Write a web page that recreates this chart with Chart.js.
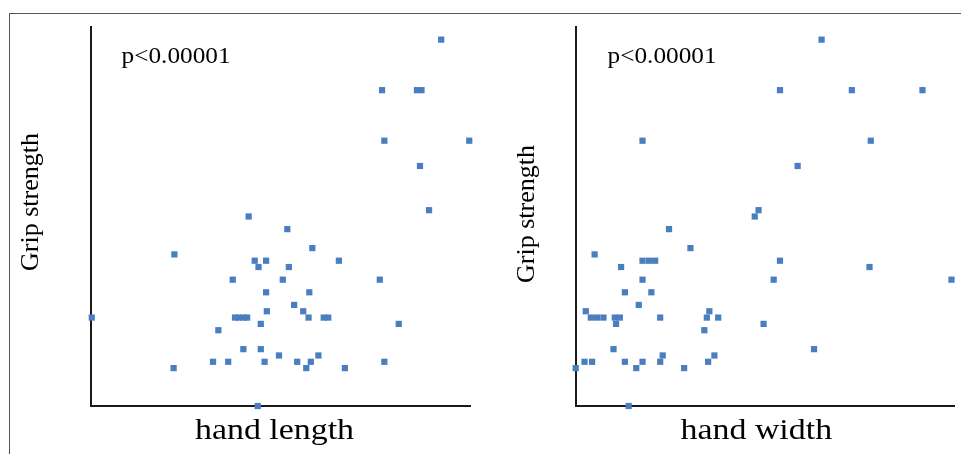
<!DOCTYPE html>
<html>
<head>
<meta charset="utf-8">
<script src="https://cdn.jsdelivr.net/npm/chart.js@4.4.1/dist/chart.umd.min.js"></script>
<style>
  html, body { margin: 0; padding: 0; background: #fff; }
  body { width: 961px; height: 454px; position: relative; overflow: hidden; }
  #frame { position: absolute; left: 9px; top: 13px; width: 960px; height: 450px;
           border-left: 1px solid #555; border-top: 1px solid #555; }
  canvas { position: absolute; top: 0; }
  #c1 { left: 0; }
  #c2 { left: 480px; }
</style>
</head>
<body>
<div id="frame"></div>
<canvas id="c1" width="480" height="454"></canvas>
<canvas id="c2" width="481" height="454"></canvas>
<script>
// ---- data ----
const lengthX = [20.62,19.84,20.30,20.36,19.87,20.99,20.34,20.46,18.08,18.59,17.10,18.92,18.16,18.31,18.21,18.61,19.27,17.87,18.53,19.81,18.31,18.88,18.68,18.80,18.32,16.01,17.90,17.95,18.01,18.06,18.87,19.07,19.13,18.24,20.06,17.68,18.01,18.24,18.48,19.00,17.61,17.81,18.29,18.72,18.90,19.87,17.09,18.84,19.35,18.20];
const lengthGrip = [73,65,65,65,57,57,53,46,45,43,39,40,38,38,37,37,38,35,35,35,33,33,31,30,30,29,29,29,29,29,29,29,29,28,28,27,24,24,23,23,22,22,22,22,22,22,21,21,21,15];

const widthX = [8.95,8.62,9.19,9.75,7.53,9.34,8.76,8.45,8.42,7.74,7.15,7.91,7.53,7.58,7.63,8.62,7.36,9.33,7.53,8.57,9.98,7.39,7.60,7.50,7.08,8.06,7.12,7.17,7.22,7.31,7.35,7.67,8.04,8.13,7.32,8.49,8.02,7.30,8.89,7.69,8.10,7.07,7.13,7.39,7.53,7.67,8.05,7.00,7.48,7.86,7.42];
const widthGrip = [73,65,65,65,57,57,53,46,45,43,39,40,38,38,38,38,37,37,35,35,35,33,33,31,30,30,29,29,29,29,29,29,29,29,28,28,27,24,24,23,23,22,22,22,22,22,22,21,21,21,15];

const xTitles = ["hand length", "hand width"];
const yTitle = "Grip strength";
const pLabel = "p<0.00001";

const gripRange = [15, 75];
const lengthRange = [16, 21];
const widthRange = [7, 10];

const BLUE = '#4a7ebf';
const AXIS = '#1a1a1a';
const FONT = '"Liberation Serif", "Times New Roman", serif';

function pts(xs, ys) { return xs.map((x, i) => ({ x: x, y: ys[i] })); }

function textPlugin(cfg) {
  return {
    id: 'texts',
    afterDraw(chart) {
      const ctx = chart.ctx;
      ctx.save();
      ctx.fillStyle = '#000';
      // p label
      ctx.font = '23px ' + FONT;
      ctx.textAlign = 'left';
      ctx.textBaseline = 'alphabetic';
      ctx.save();
      ctx.translate(cfg.pX, 62.5);
      ctx.scale(1.1, 1);
      ctx.fillText(pLabel, 0, 0);
      ctx.restore();
      // x title
      ctx.font = '30px ' + FONT;
      ctx.textAlign = 'center';
      ctx.save();
      ctx.translate(cfg.xtX, 439);
      ctx.scale(1.13, 1);
      ctx.fillText(cfg.xTitle, 0, 0);
      ctx.restore();
      // y title
      ctx.font = '26px ' + FONT;
      ctx.save();
      ctx.translate(cfg.ytX, cfg.ytY);
      ctx.rotate(-Math.PI / 2);
      ctx.fillText(yTitle, 0, 0);
      ctx.restore();
      ctx.restore();
    }
  };
}

function makeChart(id, data, xr, leftW, rightPad, tcfg) {
  return new Chart(document.getElementById(id), {
    type: 'scatter',
    data: {
      datasets: [{
        data: data,
        pointStyle: 'rect',
        pointRadius: 4.4,
        pointHoverRadius: 4.4,
        backgroundColor: BLUE,
        borderColor: BLUE,
        borderWidth: 0,
        clip: false
      }]
    },
    options: {
      responsive: false,
      animation: false,
      devicePixelRatio: 1,
      layout: { padding: { top: 27, right: rightPad, left: 0, bottom: 0 } },
      plugins: { legend: { display: false }, tooltip: { enabled: false } },
      events: [],
      scales: {
        x: {
          type: 'linear', min: xr[0], max: xr[1],
          grid: { display: false, drawTicks: false },
          ticks: { display: false },
          border: { display: true, color: AXIS, width: 2 },
          afterFit(scale) { scale.height = 48; }
        },
        y: {
          type: 'linear', min: gripRange[0], max: gripRange[1],
          grid: { display: false, drawTicks: false },
          ticks: { display: false },
          border: { display: true, color: AXIS, width: 2 },
          afterFit(scale) { scale.width = leftW; }
        }
      }
    },
    plugins: [textPlugin(tcfg)]
  });
}

makeChart('c1', pts(lengthX, lengthGrip), lengthRange, 91, 10,
  { pX: 121.5, xtX: 274.5, xTitle: xTitles[0], ytX: 37.5, ytY: 202 });
makeChart('c2', pts(widthX, widthGrip), widthRange, 95.7, 7,
  { pX: 607.5 - 480, xtX: 756.3 - 480, xTitle: xTitles[1], ytX: 534 - 480, ytY: 214 });
</script>
</body>
</html>
